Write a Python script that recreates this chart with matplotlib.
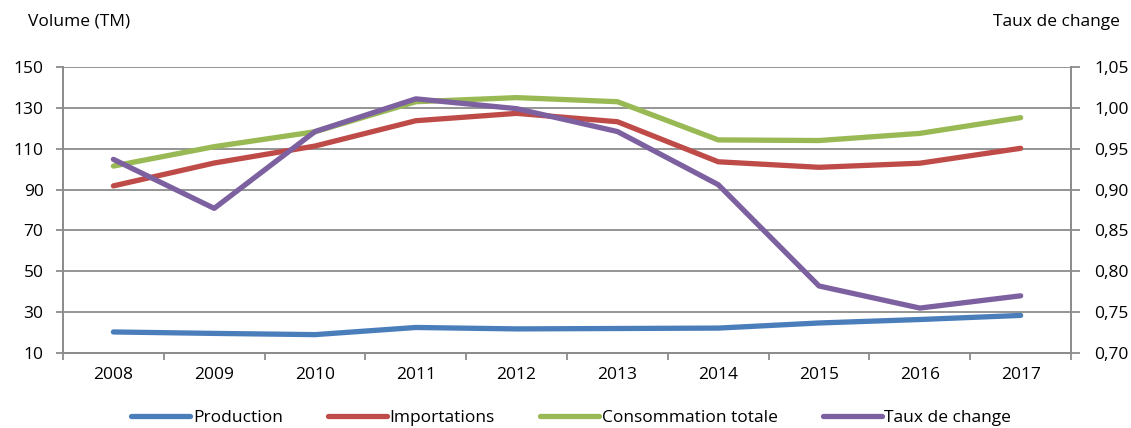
import matplotlib
matplotlib.use("Agg")
import matplotlib.pyplot as plt
from matplotlib import font_manager

years = ["2008", "2009", "2010", "2011", "2012", "2013", "2014", "2015", "2016", "2017"]
production = [20.3, 19.6, 19.0, 22.5, 21.8, 22.0, 22.2, 24.7, 26.4, 28.4]
importations = [91.8, 103.0, 111.3, 123.7, 127.3, 123.2, 103.6, 100.9, 102.9, 110.2]
consommation = [101.5, 111.0, 118.3, 133.0, 135.0, 133.0, 114.3, 114.0, 117.5, 125.2]
taux = [0.937, 0.877, 0.971, 1.011, 0.999, 0.971, 0.906, 0.782, 0.755, 0.770]

left_ticks = [10, 30, 50, 70, 90, 110, 130, 150]
right_ticks = [0.70, 0.75, 0.80, 0.85, 0.90, 0.95, 1.00, 1.05]

names = {f.name for f in font_manager.fontManager.ttflist}
fam = "Liberation Sans Narrow" if "Liberation Sans Narrow" in names else "Open Sans"
plt.rcParams['font.family'] = [fam, 'DejaVu Sans']
fs = 12.5

c_blue = "#4A7EBB"
c_red = "#BE4B48"
c_green = "#98B954"
c_purple = "#7D60A0"
grid_c = "#8C8C8C"

fig = plt.figure(figsize=(11.31, 4.28), dpi=100)
ax = fig.add_axes([0.0557, 0.1752, 0.8913, 0.6683])
ax2 = ax.twinx()

x = list(range(len(years)))
lw = 3.8
l1, = ax.plot(x, production, color=c_blue, lw=lw, solid_capstyle='round', solid_joinstyle='round', label="Production")
l2, = ax.plot(x, importations, color=c_red, lw=lw, solid_capstyle='round', solid_joinstyle='round', label="Importations")
l3, = ax.plot(x, consommation, color=c_green, lw=lw, solid_capstyle='round', solid_joinstyle='round', label="Consommation totale")
l4, = ax2.plot(x, taux, color=c_purple, lw=lw, solid_capstyle='round', solid_joinstyle='round', label="Taux de change")

ax.set_xlim(-0.5, len(years) - 0.5)
ax.set_ylim(10, 150)
ax2.set_ylim(0.70, 1.05)
ax.set_yticks(left_ticks)
ax.set_yticklabels([str(v) for v in left_ticks], fontsize=fs)
ax2.set_yticks(right_ticks)
ax2.set_yticklabels([f"{v:.2f}".replace(".", ",") for v in right_ticks], fontsize=fs)

ax.set_xticks([i - 0.5 for i in range(len(years) + 1)])
ax.set_xticklabels([])
ax.set_xticks(x, minor=True)
ax.set_xticklabels(years, minor=True, fontsize=fs)
ax.tick_params(axis='x', which='major', length=5, color=grid_c, width=1.3, direction='out')
ax.tick_params(axis='x', which='minor', length=0, pad=10)
ax.tick_params(axis='y', length=5, color=grid_c, width=1.3, pad=9)
ax2.tick_params(axis='y', length=6.5, color=grid_c, width=1.3, pad=10)

ax.grid(axis='y', color=grid_c, lw=1.3)
ax.set_axisbelow(True)
for a in (ax, ax2):
    for s in a.spines.values():
        s.set_color(grid_c)
        s.set_linewidth(1.3)
    a.spines['top'].set_visible(False)

fig.text(28 / 1131, 1 - 22 / 428, "Volume (TM)", fontsize=fs, va='center', ha='left')
fig.text(1120 / 1131, 1 - 22 / 428, "Taux de change", fontsize=fs, va='center', ha='right')

leg = fig.legend([l1, l2, l3, l4], ["Production", "Importations", "Consommation totale", "Taux de change"],
                 loc='center', bbox_to_anchor=(0.505, 1 - 418 / 428), ncol=4, frameon=False,
                 fontsize=fs, handlelength=3.4, handletextpad=0.15, columnspacing=2.6)

fig.savefig("out.png", dpi=100)
